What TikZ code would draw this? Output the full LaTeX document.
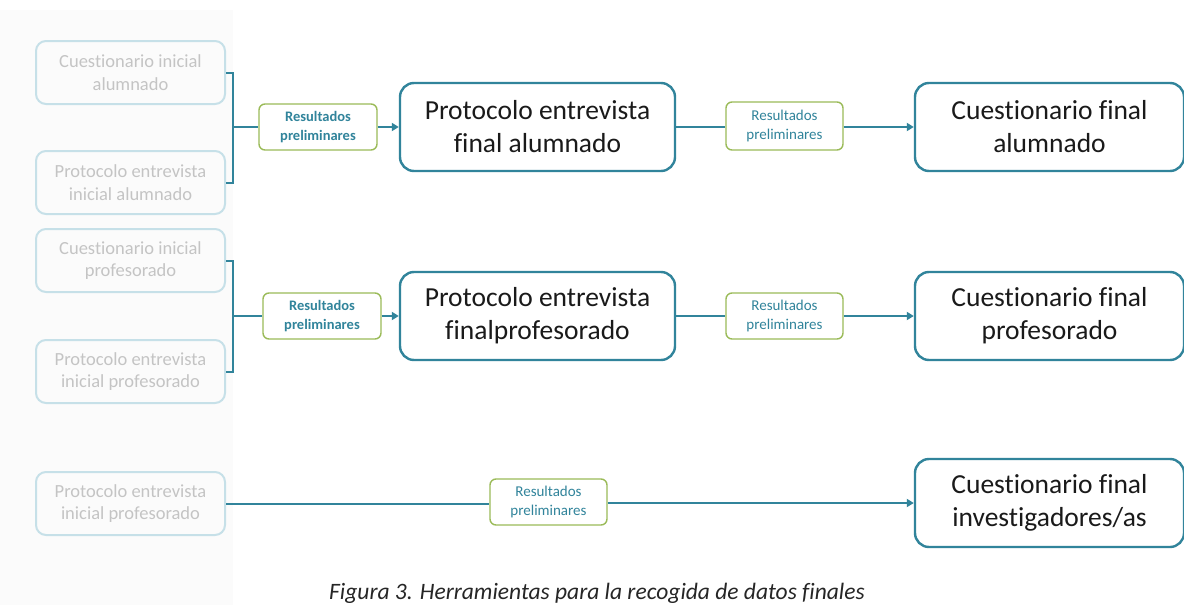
\documentclass[tikz,border=0pt]{standalone}
\usepackage{fontspec}
\setmainfont[Ligatures=NoCommon,RawFeature={-liga}]{Carlito}
\usetikzlibrary{arrows.meta}
\definecolor{teal1}{HTML}{31849B}
\definecolor{grn1}{HTML}{9BBB59}
\definecolor{lblue}{HTML}{C6E0E8}
\definecolor{lgray}{HTML}{C4C4C4}
\definecolor{panel}{HTML}{FBFBFB}
\definecolor{txt}{HTML}{1A1A1A}
\begin{document}
\begin{tikzpicture}[x=1pt,y=-1pt,
  inbox/.style={draw=lblue,line width=2pt,rounded corners=10pt,minimum width=189pt,minimum height=63pt,
    align=center,text=lgray,inner sep=0pt,font=\fontsize{18.5}{22.5}\selectfont},
  resbox/.style={draw=grn1,line width=1.4pt,rounded corners=6pt,minimum width=118pt,minimum height=46pt,
    align=center,text=teal1,inner sep=0pt,font=\fontsize{15}{18.5}\selectfont},
  resboxb/.style={resbox,font=\bfseries\fontsize{14.5}{18.5}\selectfont},
  bigbox/.style={draw=teal1,line width=2.4pt,rounded corners=14pt,minimum width=275pt,minimum height=88pt,
    align=center,text=txt,inner sep=0pt,font=\fontsize{27.5}{33}\selectfont},
  conn/.style={draw=teal1,line width=2pt},
  arr/.style={conn,-{Triangle[width=8pt,length=7pt]}}
]
\useasboundingbox (0,0) rectangle (1184,605);
\fill[white] (0,0) rectangle (1184,605);
\fill[panel] (0,10) rectangle (233,605);

% left inputs
\node[inbox] (g1) at (130.5,72.5) {Cuestionario inicial\\alumnado};
\node[inbox] (g2) at (130.5,182.5) {Protocolo entrevista\\inicial alumnado};
\node[inbox] (g3) at (130.5,260.5) {Cuestionario inicial\\profesorado};
\node[inbox] (g4) at (130.5,371.5) {Protocolo entrevista\\inicial profesorado};
\node[inbox] (g5) at (130.5,503.5) {Protocolo entrevista\\inicial profesorado};

% row 1
\node[resboxb] (r1) at (318,127) {Resultados\\preliminares};
\node[bigbox] (b1) at (537.5,127) {Protocolo entrevista\\final alumnado};
\node[resbox, minimum width=117pt, minimum height=48pt] (r2) at (784.5,126) {Resultados\\preliminares};
\node[bigbox, minimum width=269pt] (f1) at (1049.5,127) {Cuestionario final\\alumnado};

% row 2
\node[resboxb] (r3) at (322,316) {Resultados\\preliminares};
\node[bigbox] (b2) at (537.5,316) {Protocolo entrevista\\finalprofesorado};
\node[resbox, minimum width=117pt] (r4) at (784.5,316) {Resultados\\preliminares};
\node[bigbox, minimum width=269pt] (f2) at (1049.5,316) {Cuestionario final\\profesorado};

% row 3
\node[resbox, minimum width=117pt] (r5) at (548.5,502) {Resultados\\preliminares};
\node[bigbox, minimum width=269pt] (f3) at (1049.5,503) {Cuestionario final\\investigadores/as};

% junctions
\coordinate (j1) at (233,127);
\coordinate (j2) at (233,316);

\draw[conn] (g1.east) -| (j1) |- (g2.east);
\draw[conn] (j1) -- (r1.west);
\draw[arr] (r1.east) -- (b1.west);
\draw[conn] (b1.east) -- (b1.east -| r2.west);
\draw[arr] (r2.east |- f1.west) -- (f1.west);

\draw[conn] (g3.east) -| (j2) |- (g4.east);
\draw[conn] (j2) -- (r3.west);
\draw[arr] (r3.east) -- (b2.west);
\draw[conn] (b2.east) -- (r4.west);
\draw[arr] (r4.east) -- (f2.west);

\draw[conn] (g5.east) -- (g5.east -| r5.west);
\draw[arr] (r5.east |- f3.west) -- (f3.west);

% caption
\node[anchor=base,font=\itshape\fontsize{23.5}{27}\selectfont,text=black!85] (cap) at (597,599)
  {Figura 3. Herramientas para la recogida de datos finales};
\end{tikzpicture}
\end{document}
